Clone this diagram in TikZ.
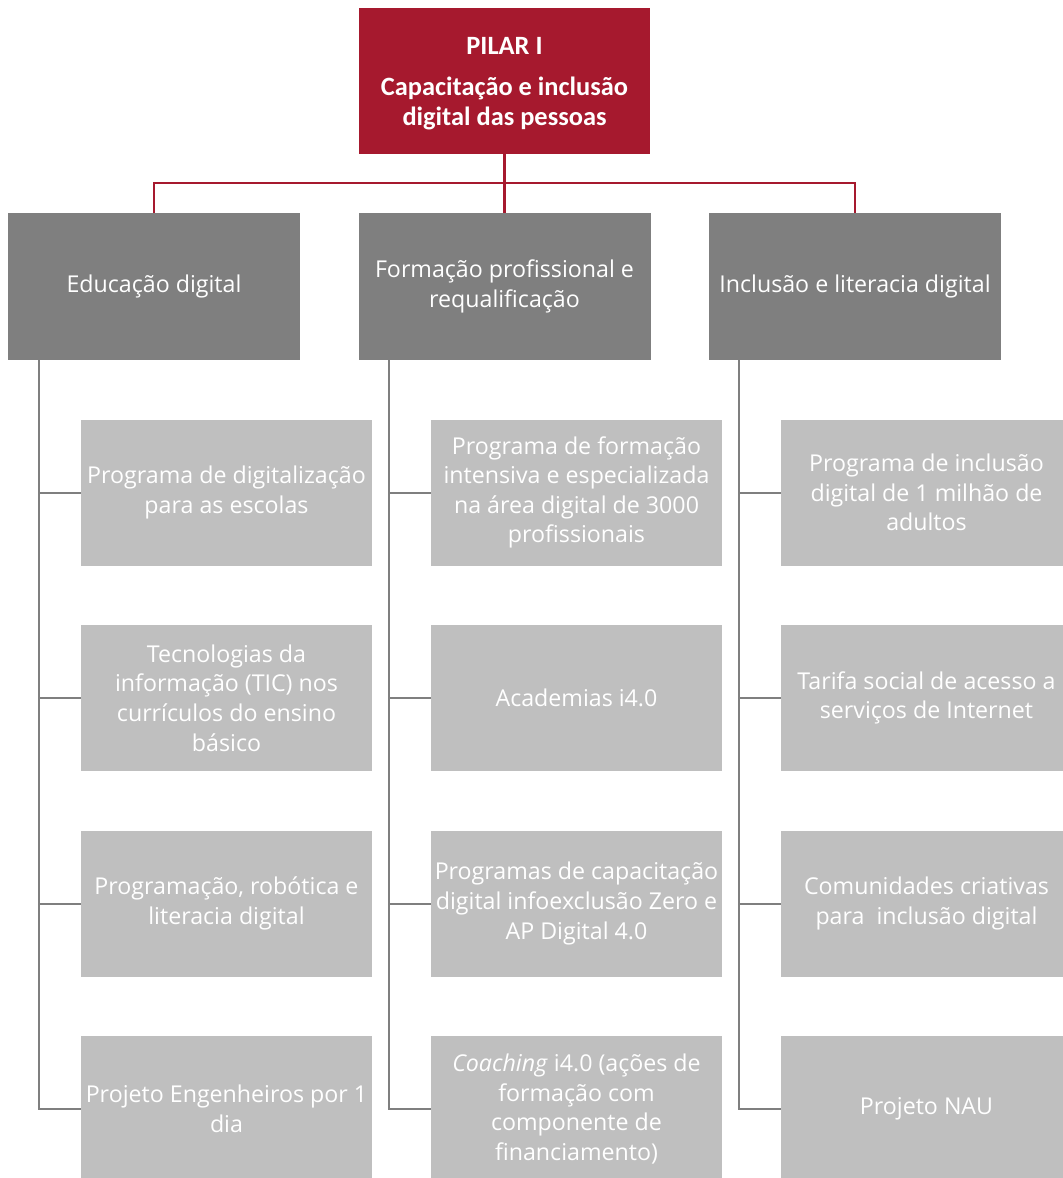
\documentclass[tikz,border=0pt]{standalone}
\usepackage{fontspec}
\setmainfont{Open Sans}
\newfontfamily\titlefont{Carlito}
\definecolor{pilarred}{HTML}{A6192E}
\definecolor{headgray}{HTML}{7F7F7F}
\definecolor{childgray}{HTML}{BFBFBF}
\definecolor{linegray}{HTML}{7F7F7F}
\begin{document}
\begin{tikzpicture}[x=0.75pt,y=-0.75pt,
  topbox/.style={fill=pilarred, text=white, minimum width=291*0.75pt, minimum height=146*0.75pt, inner sep=0pt, align=center, font=\titlefont\bfseries\fontsize{19.8}{22.5}\selectfont},
  headbox/.style={fill=headgray, text=white, minimum width=292*0.75pt, minimum height=147*0.75pt, inner sep=0pt, align=center, font=\fontsize{17.4}{22.2}\selectfont},
  childbox/.style={fill=childgray, text=white, minimum width=291*0.75pt, minimum height=146*0.75pt, inner sep=0pt, align=center, font=\fontsize{17.4}{22.2}\selectfont},
  redline/.style={draw=pilarred, line width=1.6pt},
  grayline/.style={draw=linegray, line width=1.5pt}]
\useasboundingbox (0,0) rectangle (1063,1178);
\fill[white] (0,0) rectangle (1063,1178);

\node[topbox] (top) at (504.5,81) {};
\node[font=\titlefont\bfseries\fontsize{19.8}{22.5}\selectfont, text=white, align=center, inner sep=0pt] (toptext) at (504.5,84) {PILAR I\\[8pt]Capacitação e inclusão\\digital das pessoas};

\node[headbox] (h1) at (154,286.5) {Educação digital};
\node[headbox] (h2) at (504.5,286.5) {Formação profissional e\\requalificação};
\node[headbox] (h3) at (855,286.5) {Inclusão e literacia digital};

\coordinate (bus) at (504.5,183);
\draw[redline] (top.south) -- (bus);
\draw[redline] (h1.north) |- (bus) -| (h3.north);
\draw[redline] (bus) -- (h2.north);

% column 1
\node[childbox] (a1) at (226.5,492.5) {Programa de digitalização\\para as escolas};
\node[childbox] (a2) at (226.5,698) {Tecnologias da\\informação (TIC) nos\\currículos do ensino\\básico};
\node[childbox] (a3) at (226.5,903.5) {Programação, robótica e\\literacia digital};
\node[childbox] (a4) at (226.5,1109) {Projeto Engenheiros por 1\\dia};

% column 2
\node[childbox] (b1) at (576.5,492.5) {Programa de formação\\intensiva e especializada\\na área digital de 3000\\profissionais};
\node[childbox] (b2) at (576.5,698) {Academias i4.0};
\node[childbox] (b3) at (576.5,903.5) {Programas de capacitação\\digital infoexclusão Zero e\\AP Digital 4.0};
\node[childbox] (b4) at (576.5,1109) {\textit{Coaching} i4.0 (ações de\\formação com\\componente de\\financiamento)};

% column 3
\node[childbox] (c1) at (926.5,492.5) {Programa de inclusão\\digital de 1 milhão de\\adultos};
\node[childbox] (c2) at (926.5,698) {Tarifa social de acesso a\\serviços de Internet};
\node[childbox] (c3) at (926.5,903.5) {Comunidades criativas\\para\ \ inclusão digital};
\node[childbox] (c4) at (926.5,1109) {Projeto NAU};

\coordinate (v1) at (39,360);
\coordinate (v2) at (389,360);
\coordinate (v3) at (739,360);

\draw[grayline] (v1) |- (a4.west);
\foreach \n in {a1,a2,a3} \draw[grayline] (v1 |- \n.west) -- (\n.west);
\draw[grayline] (v2) |- (b4.west);
\foreach \n in {b1,b2,b3} \draw[grayline] (v2 |- \n.west) -- (\n.west);
\draw[grayline] (v3) |- (c4.west);
\foreach \n in {c1,c2,c3} \draw[grayline] (v3 |- \n.west) -- (\n.west);
\end{tikzpicture}
\end{document}
